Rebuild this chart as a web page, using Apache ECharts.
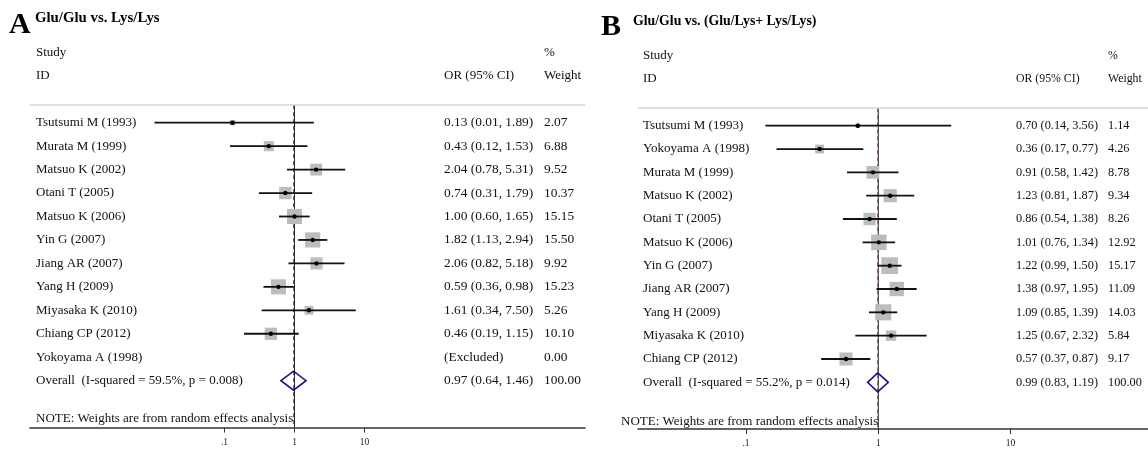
<!DOCTYPE html>
<html>
<head>
<meta charset="utf-8">
<script src="https://cdn.jsdelivr.net/npm/echarts@6/dist/echarts.min.js"></script>
<style>
html, body { margin: 0; padding: 0; background: #fff; }
#chart { width: 1148px; height: 450px; }
</style>
</head>
<body>
<div id="chart"></div>
<script>
// Panel A: Glu/Glu vs. Lys/Lys
var studiesA = ['Tsutsumi M (1993)', 'Murata M (1999)', 'Matsuo K (2002)', 'Otani T (2005)', 'Matsuo K (2006)',
  'Yin G (2007)', 'Jiang AR (2007)', 'Yang H (2009)', 'Miyasaka K (2010)', 'Chiang CP (2012)', 'Yokoyama A (1998)'];
var orA = [0.13, 0.43, 2.04, 0.74, 1.00, 1.82, 2.06, 0.59, 1.61, 0.46, null];
var loA = [0.01, 0.12, 0.78, 0.31, 0.60, 1.13, 0.82, 0.36, 0.34, 0.19, null];
var hiA = [1.89, 1.53, 5.31, 1.79, 1.65, 2.94, 5.18, 0.98, 7.50, 1.15, null];
var weightA = [2.07, 6.88, 9.52, 10.37, 15.15, 15.50, 9.92, 15.23, 5.26, 10.10, 0.00];
var overallA = [0.97, 0.64, 1.46];
var overallLabelA = 'Overall  (I-squared = 59.5%, p = 0.008)';

// Panel B: Glu/Glu vs. (Glu/Lys+ Lys/Lys)
var studiesB = ['Tsutsumi M (1993)', 'Yokoyama A (1998)', 'Murata M (1999)', 'Matsuo K (2002)', 'Otani T (2005)',
  'Matsuo K (2006)', 'Yin G (2007)', 'Jiang AR (2007)', 'Yang H (2009)', 'Miyasaka K (2010)', 'Chiang CP (2012)'];
var orB = [0.70, 0.36, 0.91, 1.23, 0.86, 1.01, 1.22, 1.38, 1.09, 1.25, 0.57];
var loB = [0.14, 0.17, 0.58, 0.81, 0.54, 0.76, 0.99, 0.97, 0.85, 0.67, 0.37];
var hiB = [3.56, 0.77, 1.42, 1.87, 1.38, 1.34, 1.50, 1.95, 1.39, 2.32, 0.87];
var weightB = [1.14, 4.26, 8.78, 9.34, 8.26, 12.92, 15.17, 11.09, 14.03, 5.84, 9.17];
var overallB = [0.99, 0.83, 1.19];
var overallLabelB = 'Overall  (I-squared = 55.2%, p = 0.014)';

var tickValues = [0.1, 1, 10];
var noteText = 'NOTE: Weights are from random effects analysis';

var SERIF = '"Liberation Serif", "Times New Roman", serif';
var chart = echarts.init(document.getElementById('chart'));

function fmt(v) { return v.toFixed(2) }
function ciText(or, lo, hi) {
  return or == null ? '(Excluded)' : fmt(or) + ' (' + fmt(lo) + ', ' + fmt(hi) + ')'
}

var panels = [
  { studies: studiesA, or: orA, lo: loA, hi: hiA, w: weightA, overall: overallA, overallLabel: overallLabelA,
    rowTop: 122.7, rowStep: 23.45, frameLeft: 30, frameRight: 585, one: 294.5, decade: 70, logMin: 0.001, logMax: 1000,
    colName: 6, colOR: 414, colW: 514, colNote: 6, noteRow: 12.6, k: 3.85, textSize: 13, headSize: 13, numSize: 13.4 },
  { studies: studiesB, or: orB, lo: loB, hi: hiB, w: weightB, overall: overallB, overallLabel: overallLabelB,
    rowTop: 125.7, rowStep: 23.33, frameLeft: 638, frameRight: 1148, one: 878.3, decade: 132.3, logMin: 0.01, logMax: 100,
    colName: 5, colOR: 378, colW: 470, colNote: -17, noteRow: 12.7, k: 4.3, textSize: 13, headSize: 11.8, numSize: 12.3 }
];

var grids = [], xAxes = [], yAxes = [], series = [];

panels.forEach(function (p, n) {
  var top = p.rowTop - 3.5 * p.rowStep;
  var height = 16.5 * p.rowStep;
  var plotLeft = p.one + p.decade * Math.log10(p.logMin);
  var plotWidth = p.decade * Math.log10(p.logMax / p.logMin);
  var frameWidth = p.frameRight - p.frameLeft;
  var gPlot = n * 2, gFrame = n * 2 + 1;

  grids.push({ left: plotLeft, top: top, width: plotWidth, height: height });
  grids.push({ left: p.frameLeft, top: top, width: frameWidth, height: height });

  xAxes.push({
    type: 'log', logBase: 10, gridIndex: gPlot, min: p.logMin, max: p.logMax, position: 'bottom',
    axisLine: { show: false, onZero: false },
    axisTick: { show: true, customValues: tickValues, length: 5, lineStyle: { color: '#333', width: 1 } },
    axisLabel: {
      customValues: tickValues, margin: 10, fontSize: 9.5, fontFamily: SERIF, color: '#222',
      formatter: function (v) { return Math.abs(v - 0.1) < 1e-9 ? '.1' : String(Math.round(v)) }
    },
    splitLine: { show: false }
  });
  xAxes.push({
    type: 'value', gridIndex: gFrame, min: 0, max: frameWidth, position: 'bottom',
    axisLine: { show: true, onZero: false, lineStyle: { color: '#333', width: 1.6 } },
    axisTick: { show: false }, axisLabel: { show: false }, splitLine: { show: false }
  });
  [gPlot, gFrame].forEach(function (g) {
    yAxes.push({ type: 'value', gridIndex: g, min: -3.5, max: 13, inverse: true, show: false });
  });

  // null line and overall dashed line
  series.push({
    type: 'line', xAxisIndex: gPlot, yAxisIndex: gPlot, symbol: 'none', silent: true,
    data: [[1, -0.75], [1, 13]], lineStyle: { color: '#2a2a2a', width: 1 }, z: 1
  });
  series.push({
    type: 'line', xAxisIndex: gPlot, yAxisIndex: gPlot, symbol: 'none', silent: true,
    data: [[p.overall[0], -0.75], [p.overall[0], 13]], lineStyle: { color: '#a33a3a', width: 1, type: [4, 3] }, z: 2
  });

  // study boxes + CI lines
  series.push({
    type: 'custom', xAxisIndex: gPlot, yAxisIndex: gPlot, silent: true, z: 3,
    data: p.studies.map(function (s, i) { return [p.or[i] == null ? 1 : p.or[i], i] }),
    renderItem: function (params, api) {
      var i = params.dataIndex;
      if (p.or[i] == null) return null;
      var c = api.coord([p.or[i], i]);
      var l = api.coord([p.lo[i], i]);
      var h = api.coord([p.hi[i], i]);
      var s = p.k * Math.sqrt(p.w[i]);
      return {
        type: 'group', children: [
          { type: 'rect', shape: { x: c[0] - s / 2, y: c[1] - s / 2, width: s, height: s }, style: { fill: '#bcbcbc' } },
          { type: 'line', shape: { x1: l[0], y1: l[1], x2: h[0], y2: h[1] }, style: { stroke: '#111', lineWidth: 1.8 } },
          { type: 'circle', shape: { cx: c[0], cy: c[1], r: 2.2 }, style: { fill: '#000' } }
        ]
      };
    }
  });

  // overall diamond
  var ovRow = p.studies.length;
  series.push({
    type: 'custom', xAxisIndex: gPlot, yAxisIndex: gPlot, silent: true, z: 4,
    data: [[p.overall[0], ovRow]],
    renderItem: function (params, api) {
      var c = api.coord([p.overall[0], ovRow]);
      var l = api.coord([p.overall[1], ovRow]);
      var h = api.coord([p.overall[2], ovRow]);
      var hh = 9.5;
      return {
        type: 'polygon',
        shape: { points: [[l[0], c[1]], [c[0], c[1] - hh], [h[0], c[1]], [c[0], c[1] + hh]] },
        style: { fill: 'none', stroke: '#14148a', lineWidth: 1.6 }
      };
    }
  });

  // table text
  var texts = [
    [p.colName, -3, 'Study', p.textSize], [p.colName, -2, 'ID', p.textSize],
    [p.colW, -3, '%', p.headSize], [p.colW, -2, 'Weight', p.headSize], [p.colOR, -2, 'OR (95% CI)', p.headSize]
  ];
  p.studies.forEach(function (s, i) {
    texts.push([p.colName, i, s, p.textSize]);
    texts.push([p.colOR, i, ciText(p.or[i], p.lo[i], p.hi[i]), p.numSize]);
    texts.push([p.colW, i, fmt(p.w[i]), p.numSize]);
  });
  texts.push([p.colName, ovRow, p.overallLabel, p.textSize]);
  texts.push([p.colOR, ovRow, ciText(p.overall[0], p.overall[1], p.overall[2]), p.numSize]);
  texts.push([p.colW, ovRow, '100.00', p.numSize]);
  texts.push([p.colNote, p.noteRow, noteText, p.textSize]);

  series.push({
    type: 'custom', xAxisIndex: gFrame, yAxisIndex: gFrame, silent: true, z: 5,
    data: texts.map(function (t) { return [t[0], t[1]] }),
    renderItem: function (params, api) {
      var t = texts[params.dataIndex];
      var c = api.coord([t[0], t[1]]);
      return {
        type: 'text', x: c[0], y: c[1],
        style: { text: t[2], fill: '#111', font: t[3] + 'px ' + SERIF, align: 'left', verticalAlign: 'middle' }
      };
    },
    markLine: {
      silent: true, symbol: 'none', label: { show: false },
      lineStyle: { color: '#d4d4d4', width: 1.5, type: 'solid' },
      data: [{ yAxis: -0.75 }]
    }
  });
});

chart.setOption({
  animation: false,
  backgroundColor: '#fff',
  grid: grids,
  xAxis: xAxes,
  yAxis: yAxes,
  series: series,
  graphic: [
    { type: 'text', x: 9, y: 25, style: { text: 'A', font: 'bold 30px ' + SERIF, fill: '#000', verticalAlign: 'middle' } },
    { type: 'text', x: 35, y: 18, style: { text: 'Glu/Glu vs. Lys/Lys', font: 'bold 14.8px ' + SERIF, fill: '#000', verticalAlign: 'middle' } },
    { type: 'text', x: 601, y: 27, style: { text: 'B', font: 'bold 30px ' + SERIF, fill: '#000', verticalAlign: 'middle' } },
    { type: 'text', x: 633, y: 21.5, style: { text: 'Glu/Glu vs. (Glu/Lys+ Lys/Lys)', font: 'bold 13.8px ' + SERIF, fill: '#000', verticalAlign: 'middle' } }
  ]
});
</script>
</body>
</html>
